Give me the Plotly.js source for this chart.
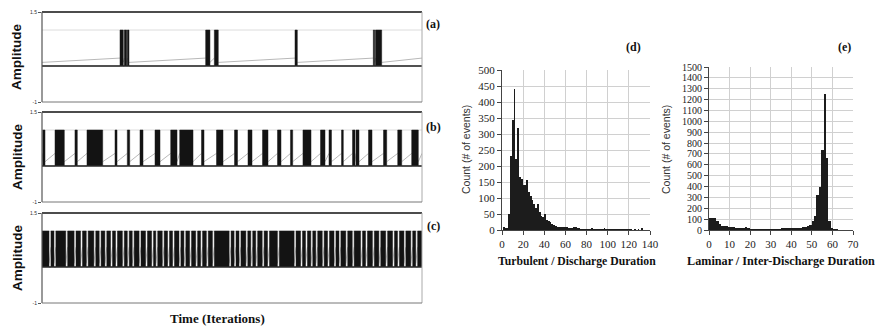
<!DOCTYPE html>
<html>
<head>
<meta charset="utf-8">
<script src="https://cdn.plot.ly/plotly-3.0.1.min.js"></script>
<style>html,body{margin:0;padding:0;background:#fff;}#chart{width:875px;height:334px;}</style>
</head>
<body>
<div id="chart"></div>
<script>
// ---------------- DATA ----------------
// Time series panels: burst (turbulent) intervals, in iterations (axis 0..1000)
var burstStartA = [205.3, 216.6, 224.5, 430.7, 453.5, 665.8, 871.9, 877.5];
var burstEndA   = [213.9, 222.9, 228.9, 442.0, 463.9, 671.9, 875.5, 893.9];

var burstStartB = [1.8, 34.2, 86.8, 118.4, 192.1, 224.5, 257.9, 297.4, 338.7, 362.4, 419.7, 459.2, 506.6, 542.1, 580.3, 619.7, 653.9, 686.8, 732.9, 755.3, 788.2, 817.1, 826.3, 859.2, 898.7, 936.1, 972.9];
var burstEndB   = [7.9, 58.7, 92.9, 159.7, 197.4, 230.8, 265.8, 310.5, 355.3, 397.4, 426.3, 476.3, 514.5, 552.6, 594.7, 628.9, 659.7, 707.9, 744.7, 761.8, 792.9, 823.7, 834.2, 868.4, 907.1, 946.6, 990.3];

var burstStartC = [0, 23.5, 36.5, 67.5, 89.5, 106.5, 121.5, 141.5, 155.5, 170.5, 185.5, 198.5, 216.5, 229.5, 242.5, 260.5, 277.5, 293.5, 304.5, 321.5, 335.5, 348.5, 365.5, 378.5, 393.5, 409.5, 422.5, 437.5, 453.5, 497.5, 510.5, 523.5, 541.5, 554.5, 567.5, 584.5, 598.5, 624.5, 668.5, 685.5, 698.5, 712.5, 725.5, 742.5, 756.5, 773.5, 786.5, 804.5, 821.5, 843.5, 856.5, 874.5, 891.5, 909.5, 927.5, 940.5, 957.5, 975.5, 988.5];
var burstEndC   = [18.5, 31.5, 62.5, 84.5, 101.5, 116.5, 136.5, 150.5, 165.5, 180.5, 193.5, 211.5, 224.5, 237.5, 255.5, 272.5, 288.5, 299.5, 316.5, 330.5, 343.5, 360.5, 373.5, 388.5, 404.5, 417.5, 432.5, 448.5, 492.5, 505.5, 518.5, 536.5, 549.5, 562.5, 579.5, 593.5, 619.5, 663.5, 680.5, 693.5, 707.5, 720.5, 737.5, 751.5, 768.5, 781.5, 799.5, 816.5, 838.5, 851.5, 869.5, 886.5, 904.5, 922.5, 935.5, 952.5, 970.5, 983.5, 1000];

var burstLevel = [0, 1];            // laminar level, turbulent upper level
var grayRampLow  = [0.10, 0.12, 0.10]; // gray trace at start of laminar phase (a,b,c)
var grayRampHigh = [0.22, 0.35, 0.55]; // gray trace at end of laminar phase (a,b,c)
var ampTicks = [-1, 1.5];
var ampTickText = ['-1', '1.5'];

// Histogram (d): turbulent / discharge duration
var turbCounts = [8, 5, 5, 50, 232, 345, 440, 222, 320, 165, 160, 140, 140, 155, 120, 105, 95, 80, 70, 80, 55, 45, 40, 50, 30, 28, 25, 20, 15, 12, 10, 8, 8, 10, 8, 8, 6, 5, 5, 8, 8, 5, 5, 4, 4, 4, 3, 4, 3, 6, 3, 3, 3, 3, 3, 2, 5, 3, 2, 3, 4, 2, 3, 2, 2, 2, 4, 2, 3, 2, 2, 2, 1, 2, 1, 2, 1, 5];
var turbBinStart = 1.7, turbBinWidth = 1.7;

// Histogram (e): laminar / inter-discharge duration
var lamCounts = [115, 115, 110, 80, 55, 40, 38, 35, 32, 30, 25, 20, 22, 20, 15, 25, 15, 10, 10, 10, 10, 8, 10, 10, 10, 8, 10, 12, 8, 12, 15, 18, 22, 15, 18, 20, 22, 22, 22, 25, 28, 35, 45, 80, 130, 320, 400, 740, 1250, 660, 80, 15, 8, 5, 3];
var lamBinStart = 0.58, lamBinWidth = 1.16;

// ---------------- BUILD ----------------
var W = 875, H = 334;
function px(x){ return x / W; }
function py(y){ return 1 - y / H; }

var traces = [];
function addSeries(starts, ends, idx, xa, ya){
  // faint upper level line
  traces.push({x:[0,1000], y:[burstLevel[1], burstLevel[1]], xaxis:xa, yaxis:ya, mode:'lines',
    line:{color:'#dcdcdc', width:1}, hoverinfo:'skip', showlegend:false});
  // gray laminar ramps
  var gx = [], gy = [];
  var prevEnd = 0;
  for (var i = 0; i <= starts.length; i++){
    var s = (i < starts.length) ? starts[i] : 1000;
    if (s - prevEnd > 0.5){
      gx.push(prevEnd, s, null);
      gy.push(grayRampLow[idx], grayRampHigh[idx], null);
    }
    if (i < ends.length) prevEnd = ends[i];
  }
  traces.push({x:gx, y:gy, xaxis:xa, yaxis:ya, mode:'lines', line:{color:'#b8b8b8', width:1},
    hoverinfo:'skip', showlegend:false, connectgaps:false});
  // black signal bursts filling 0..1
  var bx = [0], by = [burstLevel[0]];
  for (var j = 0; j < starts.length; j++){
    bx.push(starts[j], starts[j], ends[j], ends[j]);
    by.push(burstLevel[0], burstLevel[1], burstLevel[1], burstLevel[0]);
  }
  bx.push(1000); by.push(burstLevel[0]);
  traces.push({x:bx, y:by, xaxis:xa, yaxis:ya, mode:'lines', fill:'tozeroy',
    fillcolor:'#131313', line:{color:'#1a1a1a', width:0.5}, hoverinfo:'skip', showlegend:false});
  // laminar baseline
  traces.push({x:[0,1000], y:[burstLevel[0], burstLevel[0]], xaxis:xa, yaxis:ya, mode:'lines',
    line:{color:'#2a2a2a', width:1.6}, hoverinfo:'skip', showlegend:false});
}
addSeries(burstStartA, burstEndA, 0, 'x', 'y');
addSeries(burstStartB, burstEndB, 1, 'x2', 'y2');
addSeries(burstStartC, burstEndC, 2, 'x3', 'y3');

traces.push({type:'bar', y:turbCounts, x0:turbBinStart, dx:turbBinWidth, xaxis:'x4', yaxis:'y4',
  marker:{color:'#1c1c1c', line:{width:0}}, showlegend:false, hoverinfo:'skip'});
traces.push({type:'bar', y:lamCounts, x0:lamBinStart, dx:lamBinWidth, xaxis:'x5', yaxis:'y5',
  marker:{color:'#1c1c1c', line:{width:0}}, showlegend:false, hoverinfo:'skip'});

var tsX = [px(42), px(422)];
var tsDomains = [[py(102), py(12)], [py(202), py(112)], [py(303), py(213)]];

function tsXAxis(yname){
  return {domain:tsX, range:[0,1000], anchor:yname, showticklabels:false, ticks:'',
    showgrid:false, zeroline:false, showline:false, fixedrange:true};
}
function tsYAxis(dom, xname){
  return {domain:dom, range:[-1,1.5], anchor:xname, tickvals:ampTicks, ticktext:ampTickText,
    ticks:'outside', ticklen:3, tickwidth:1, tickcolor:'#555',
    tickfont:{family:'Liberation Sans, Arial, sans-serif', size:5, color:'#333'},
    showgrid:false, zeroline:false, showline:false, fixedrange:true};
}

var serif = 'Liberation Serif, Times New Roman, serif';
var sans = 'Liberation Sans, Arial, sans-serif';

function histAxis(dom, rng, dt, anchor, fs){
  return {domain:dom, range:rng, anchor:anchor, dtick:dt, tick0:0,
    ticks:'outside', ticklen:4, tickcolor:'#444', showline:true, linecolor:'#444', linewidth:1,
    showgrid:true, gridcolor:'#d0d0d0', gridwidth:1, zeroline:false,
    tickfont:{family:serif, size:fs, color:'#222'}};
}

var layout = {
  width:W, height:H, margin:{l:0,r:0,t:0,b:0}, paper_bgcolor:'#fff', plot_bgcolor:'rgba(0,0,0,0)',
  bargap:0, showlegend:false,
  xaxis: tsXAxis('y'), yaxis: tsYAxis(tsDomains[0], 'x'),
  xaxis2: tsXAxis('y2'), yaxis2: tsYAxis(tsDomains[1], 'x2'),
  xaxis3: tsXAxis('y3'), yaxis3: tsYAxis(tsDomains[2], 'x3'),
  xaxis4: histAxis([px(502), px(650)], [0,140], 20, 'y4', 11),
  yaxis4: histAxis([py(230), py(70)], [0,500], 50, 'x4', 11),
  xaxis5: histAxis([px(709), px(853)], [0,70], 10, 'y5', 11),
  yaxis5: histAxis([py(230), py(67)], [0,1500], 100, 'x5', 10),
  shapes: [],
  annotations: []
};

// frames of the time-series panels
['', '2', '3'].forEach(function(n){
  var xr = 'x' + n + ' domain', yr = 'y' + n + ' domain';
  layout.shapes.push({type:'line', xref:xr, yref:yr, x0:0, x1:1, y0:1, y1:1, line:{color:'#111', width:1.3}});
  layout.shapes.push({type:'line', xref:xr, yref:yr, x0:0, x1:0, y0:0, y1:1, line:{color:'#555', width:1.2}});
  layout.shapes.push({type:'line', xref:xr, yref:yr, x0:1, x1:1, y0:0, y1:1, line:{color:'#aaa', width:1}});
  layout.shapes.push({type:'line', xref:xr, yref:yr, x0:0, x1:1, y0:0, y1:0, line:{color:'#777', width:1}});
});

function ann(text, x, y, font, extra){
  var a = {text:text, x:px(x), y:py(y), xref:'paper', yref:'paper', showarrow:false,
    xanchor:'center', yanchor:'middle', font:font};
  for (var k in extra) a[k] = extra[k];
  layout.annotations.push(a);
}
var ampFont = {family:sans, size:13.5, color:'#111'};
ann('<b>Amplitude</b>', 17, 57, ampFont, {textangle:-90});
ann('<b>Amplitude</b>', 17, 157, ampFont, {textangle:-90});
ann('<b>Amplitude</b>', 17, 258, ampFont, {textangle:-90});
var lblFont = {family:serif, size:12, color:'#111'};
ann('<b>(a)</b>', 433, 24, lblFont);
ann('<b>(b)</b>', 433, 127, lblFont);
ann('<b>(c)</b>', 433, 226, lblFont);
ann('<b>(d)</b>', 633, 47, lblFont);
ann('<b>(e)</b>', 844, 47, lblFont);
ann('<b>Time (Iterations)</b>', 217, 318, {family:serif, size:13, color:'#111'});
var cntFont = {family:sans, size:10.5, color:'#333'};
ann('Count (# of events)', 466, 150, cntFont, {textangle:-90});
ann('Count (# of events)', 666, 150, cntFont, {textangle:-90});
ann('<b>Turbulent / Discharge Duration</b>', 577, 261, {family:serif, size:11.7, color:'#111'});
ann('<b>Laminar / Inter-Discharge Duration</b>', 781, 261, {family:serif, size:12.2, color:'#111'});

Plotly.newPlot('chart', traces, layout, {staticPlot:true, displayModeBar:false});
</script>
</body>
</html>
